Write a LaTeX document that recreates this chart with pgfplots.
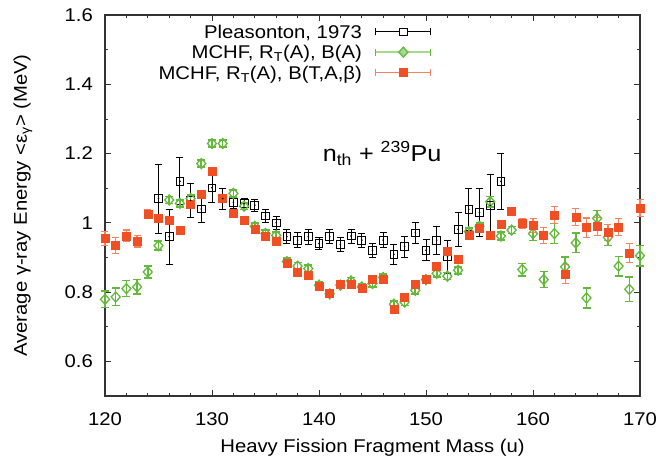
\documentclass[border=0pt]{standalone}
\usepackage{pgfplots}
\pgfplotsset{compat=1.18}
\usepackage{pgfplotstable}
\usepackage{fontspec}
\setmainfont{Liberation Sans}[FakeStretch=1.1]
\definecolor{myred}{HTML}{F04E23}
\definecolor{myredl}{HTML}{F5825F}
\definecolor{mygreen}{HTML}{64B93C}
\definecolor{mygreenl}{HTML}{A6D98B}
\definecolor{axgray}{HTML}{333333}

\pgfplotstableread{
x y e
125 1.070 0.100
126 0.960 0.080
127 1.120 0.068
128 1.065 0.050
129 1.040 0.040
130 1.101 0.042
131 1.070 0.030
132 1.059 0.017
133 1.055 0.016
134 1.051 0.017
135 1.020 0.018
136 1.000 0.018
137 0.960 0.020
138 0.950 0.021
139 0.960 0.021
140 0.940 0.018
141 0.960 0.020
142 0.938 0.020
143 0.962 0.020
144 0.950 0.020
145 0.921 0.021
146 0.950 0.021
147 0.909 0.030
148 0.931 0.031
149 0.971 0.030
150 0.921 0.030
151 0.950 0.040
152 0.902 0.048
153 0.981 0.050
154 1.039 0.060
155 1.030 0.070
156 1.050 0.090
157 1.120 0.080
}\pleas

\pgfplotstableread{
x y e
120 0.779 0.024
121 0.786 0.025
122 0.810 0.023
123 0.815 0.021
124 0.858 0.017
125 0.934 0.013
126 1.066 0.010
127 1.056 0.010
128 1.070 0.010
129 1.171 0.010
130 1.229 0.010
131 1.229 0.010
132 1.085 0.010
133 1.048 0.010
134 0.990 0.010
135 0.969 0.010
136 0.964 0.010
137 0.888 0.010
138 0.875 0.010
139 0.868 0.010
140 0.820 0.010
141 0.795 0.010
142 0.820 0.010
143 0.832 0.010
144 0.815 0.010
145 0.825 0.010
146 0.842 0.010
147 0.765 0.010
148 0.771 0.010
149 0.805 0.010
150 0.836 0.010
151 0.854 0.010
152 0.846 0.010
153 0.863 0.010
154 0.975 0.010
155 0.990 0.010
156 1.061 0.015
157 0.962 0.012
158 0.979 0.010
159 0.865 0.018
160 0.969 0.020
161 0.836 0.023
162 0.969 0.029
163 0.873 0.029
164 0.942 0.028
165 0.783 0.029
166 1.013 0.022
167 0.958 0.023
168 0.875 0.028
169 0.808 0.035
170 0.905 0.030
}\mchfa

\pgfplotstableread{
x y e
120 0.955 0.020
121 0.934 0.023
122 0.962 0.017
123 0.947 0.017
124 1.025 0.013
125 1.014 0.010
126 1.008 0.008
127 0.979 0.006
128 1.054 0.006
129 1.083 0.006
130 1.150 0.006
131 1.072 0.006
132 1.027 0.006
133 1.008 0.006
134 0.982 0.006
135 0.960 0.006
136 0.947 0.006
137 0.882 0.006
138 0.858 0.006
139 0.849 0.006
140 0.818 0.006
141 0.796 0.006
142 0.823 0.006
143 0.823 0.006
144 0.812 0.006
145 0.836 0.006
146 0.836 0.006
147 0.750 0.006
148 0.786 0.006
149 0.823 0.006
150 0.836 0.006
151 0.875 0.006
152 0.919 0.006
153 0.896 0.006
154 0.963 0.006
155 0.984 0.008
156 0.964 0.006
157 0.996 0.006
158 1.034 0.008
159 0.998 0.015
160 0.993 0.020
161 0.964 0.023
162 1.022 0.024
163 0.852 0.027
164 1.017 0.024
165 0.986 0.028
166 0.990 0.026
167 0.972 0.023
168 0.988 0.024
169 0.913 0.028
170 1.043 0.025
}\mchfb

\begin{document}
\begin{tikzpicture}
\begin{axis}[
  name=ax,
  scale only axis,
  width=535bp, height=381bp,
  xmin=120, xmax=170, ymin=0.5, ymax=1.6,
  clip=false,
  font=\fontsize{18.5}{22}\selectfont,
  xtick={120,130,140,150,160,170},
  xticklabels={120,130,140,150,160,170},
  ytick={0.6,0.8,1,1.2,1.4,1.6},
  yticklabels={0.6,0.8,1,1.2,1.4,1.6},
  minor x tick num=4,
  minor y tick num=1,
  tick align=inside,
  major tick length=6.5bp,
  minor tick length=3.5bp,
  tick style={axgray, line width=0.8bp},
  axis line style={axgray, line width=1.1bp},
  xticklabel style={anchor=north, inner sep=0pt, yshift=-16bp},
  yticklabel style={anchor=east, inner sep=0pt, xshift=-12bp},
  xlabel={Heavy Fission Fragment Mass (u)},
  xlabel style={at={(axis description cs:0.5,-0.1496)}, anchor=base, inner sep=0pt},
  ylabel={Average γ-ray Energy <ε\textsubscript{γ}> (MeV)},
  ylabel style={at={(axis description cs:-0.1458,0.5)}, anchor=base, inner sep=0pt, rotate=0},
  legend cell align=right,
  legend plot pos=right,
  legend style={draw=none, fill=none, inner sep=0pt, outer sep=0pt,
    at={(axis description cs:0.611,0.973)}, anchor=north east,
    row sep=7.1bp, column sep=13bp,
    nodes={inner sep=0pt, text height=13.2bp, text depth=0pt},
    font=\fontsize{18.5}{22}\selectfont},
]
% Pleasonton
\addplot[black, only marks, mark=square, mark size=3.9bp, mark options={line width=0.8bp, fill=none},
  legend image code/.code={
    \draw[black, line width=0.8bp] (0bp,0bp) -- (55bp,0bp);
    \draw[black, line width=0.8bp] (0bp,-3.5bp) -- (0bp,3.5bp) (55bp,-3.5bp) -- (55bp,3.5bp);
    \draw[black, fill=white, line width=0.8bp] (23.6bp,-3.9bp) rectangle (31.4bp,3.9bp);
  },
  error bars/.cd, y dir=both, y explicit,
  error bar style={black, line width=0.8bp},
  error mark options={rotate=90, mark size=3.5bp, black, line width=0.8bp}]
  table[x=x, y=y, y error=e]{\pleas};
\addlegendentry{Pleasonton, 1973}
% MCHF A
\addplot[mygreen, only marks, mark=diamond, mark size=5bp, mark options={xscale=1.2, line width=1.3bp, fill=mygreenl},
  legend image code/.code={
    \draw[mygreenl, line width=2bp] (0bp,0bp) -- (55bp,0bp);
    \draw[mygreen, line width=1.2bp] (0bp,-3.5bp) -- (0bp,3.5bp) (55bp,-3.5bp) -- (55bp,3.5bp);
    \draw[mygreen, fill=mygreenl, line width=1.3bp] (27.5bp,5bp) -- (32bp,0bp) -- (27.5bp,-5bp) -- (23bp,0bp) -- cycle;
  },
  error bars/.cd, y dir=both, y explicit,
  error bar style={mygreen, line width=1.6bp},
  error mark options={rotate=90, mark size=4bp, mygreen, line width=1.6bp}]
  table[x=x, y=y, y error=e]{\mchfa};
\addlegendentry{MCHF, R\textsubscript{T}(A), B(A)}
% MCHF B
\addplot[myred, only marks, mark=square*, mark size=4bp, mark options={line width=0.5bp, fill=myred, draw=myred},
  legend image code/.code={
    \draw[myredl, line width=1.2bp] (0bp,0bp) -- (55bp,0bp);
    \draw[myredl, line width=1.2bp] (0bp,-3.5bp) -- (0bp,3.5bp) (55bp,-3.5bp) -- (55bp,3.5bp);
    \fill[myred] (23.5bp,-4bp) rectangle (31.5bp,4bp);
  },
  error bars/.cd, y dir=both, y explicit,
  error bar style={myredl, line width=1.2bp},
  error mark options={rotate=90, mark size=3.5bp, myredl, line width=1.2bp}]
  table[x=x, y=y, y error=e]{\mchfb};
\addlegendentry{MCHF, R\textsubscript{T}(A), B(T,A,β)}
\addplot[black, only marks, mark=*, mark size=0.6bp, forget plot] table[x=x, y=y]{\pleas};
\node[anchor=base, font=\fontsize{23}{26}\selectfont] at (axis cs:145.9,1.176) {n\textsubscript{th} + \textsuperscript{239}Pu};
\end{axis}
\pgfresetboundingbox
\path[use as bounding box] ([xshift=-105bp,yshift=-64bp]ax.south west) rectangle ([xshift=19bp,yshift=15bp]ax.north east);
\end{tikzpicture}
\end{document}
